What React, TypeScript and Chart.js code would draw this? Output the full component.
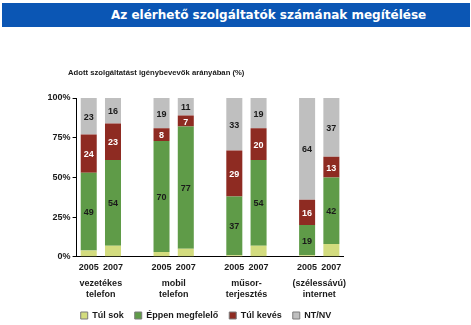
import React, { useEffect, useRef } from "react";
import { Chart, registerables } from "chart.js";

Chart.register(...registerables);

const titleText = "Az elérhető szolgáltatók számának megítélése";
const subtitleText = "Adott szolgáltatást igénybevevők arányában (%)";
const years = ["2005", "2007"];
const groupLabels = [
  ["vezetékes", "telefon"],
  ["mobil", "telefon"],
  ["műsor-", "terjesztés"],
  ["(szélessávú)", "internet"],
];
const seriesNames = ["Túl sok", "Éppen megfelelő", "Túl kevés", "NT/NV"];
const tulSok = [4, 7, 3, 5, 1, 7, 1, 8];
const eppenMegfelelo = [49, 54, 70, 77, 37, 54, 19, 42];
const tulKeves = [24, 23, 8, 7, 29, 20, 16, 13];
const ntnv = [23, 16, 19, 11, 33, 19, 64, 37];
const yTicks = [0, 25, 50, 75, 100];

const colors = ["#d3dc7e", "#5f9b48", "#8e2b22", "#bfbfbf"];
const labelColors = [null, "#1a1a1a", "#ffffff", "#1a1a1a"];

// build category labels with spacer categories between groups
const labels: string[] = [];
const slotIndex: number[] = [];
groupLabels.forEach((_, g) => {
  years.forEach((y) => {
    slotIndex.push(labels.length);
    labels.push(y);
  });
  if (g < groupLabels.length - 1) labels.push("");
});
const spread = (vals: number[]) => {
  const out: (number | null)[] = labels.map(() => null);
  vals.forEach((v, i) => (out[slotIndex[i]] = v));
  return out;
};

const FONT = "'Liberation Sans', Arial, sans-serif";

const barLabelPlugin = {
  id: "barLabels",
  afterDatasetsDraw(chart: any) {
    const ctx = chart.ctx;
    ctx.save();
    ctx.font = `bold 9px ${FONT}`;
    ctx.textAlign = "center";
    ctx.textBaseline = "middle";
    chart.data.datasets.forEach((ds: any, di: number) => {
      const col = labelColors[di];
      if (!col) return;
      const meta = chart.getDatasetMeta(di);
      meta.data.forEach((el: any, i: number) => {
        const v = ds.data[i];
        if (v == null) return;
        const p = el.getProps(["x", "y", "base"], true);
        ctx.fillStyle = col;
        ctx.fillText(String(v), p.x, (p.y + p.base) / 2 + 1);
      });
    });
    ctx.restore();
  },
};

const groupLabelPlugin = {
  id: "groupLabels",
  afterDraw(chart: any) {
    const ctx = chart.ctx;
    const xs = chart.scales.x;
    const bottom = chart.chartArea.bottom;
    ctx.save();
    ctx.font = `bold 9px ${FONT}`;
    ctx.fillStyle = "#1a1a1a";
    ctx.textAlign = "center";
    ctx.textBaseline = "middle";
    groupLabels.forEach((lines, g) => {
      const a = xs.getPixelForValue(slotIndex[g * 2]);
      const b = xs.getPixelForValue(slotIndex[g * 2 + 1]);
      const cx = (a + b) / 2;
      lines.forEach((ln, k) => {
        ctx.fillText(ln, cx, bottom + 27 + k * 11);
      });
    });
    ctx.restore();
  },
};

export default function App() {
  const ref = useRef<HTMLCanvasElement>(null);
  useEffect(() => {
    const data = [tulSok, eppenMegfelelo, tulKeves, ntnv];
    const chart = new Chart(ref.current as HTMLCanvasElement, {
      type: "bar",
      data: {
        labels,
        datasets: data.map((d, i) => ({
          label: seriesNames[i],
          data: spread(d),
          backgroundColor: colors[i],
          borderWidth: 0,
          barPercentage: 0.66,
          categoryPercentage: 1,
          yAxisID: "y",
        })),
      },
      options: {
        animation: false,
        responsive: false,
        layout: { padding: { top: 98, left: 0, right: 0, bottom: -5 } },
        plugins: {
          tooltip: { enabled: false },
          title: { display: false },
          legend: {
            position: "bottom",
            labels: {
              boxWidth: 7,
              boxHeight: 7,
              padding: 11,
              color: "#1a1a1a",
              font: { family: FONT, size: 9, weight: "bold" },
              generateLabels: (c: any) =>
                Chart.defaults.plugins.legend.labels
                  .generateLabels(c)
                  .map((l: any) => ({ ...l, strokeStyle: "#7a7a7a", lineWidth: 1 })),
            },
          },
        },
        scales: {
          x: {
            stacked: true,
            grid: { display: false, drawTicks: false },
            border: { display: true, color: "#000", width: 1 },
            ticks: {
              color: "#1a1a1a",
              font: { family: FONT, size: 9, weight: "bold" },
              padding: 5,
              autoSkip: false,
              maxRotation: 0,
            },
            afterFit: (s: any) => {
              s.height = 43.2;
            },
          },
          y: {
            stacked: true,
            min: 0,
            max: 100,
            afterBuildTicks: (s: any) => {
              s.ticks = yTicks.map((v) => ({ value: v }));
            },
            grid: {
              display: true,
              drawOnChartArea: false,
              drawTicks: true,
              tickLength: 4,
              color: "#000",
            },
            border: { display: true, color: "#000", width: 1 },
            ticks: {
              color: "#1a1a1a",
              font: { family: FONT, size: 9, weight: "bold" },
              padding: 2,
              callback: (v: any) => v + "%",
            },
            afterFit: (s: any) => {
              s.width = 76.6;
            },
          },
          y2: {
            position: "right",
            display: true,
            grid: { display: false },
            border: { display: false },
            ticks: { display: false },
            afterFit: (s: any) => {
              s.width = 68.5;
            },
          },
        },
      },
      plugins: [barLabelPlugin, groupLabelPlugin],
    } as any);
    return () => chart.destroy();
  }, []);

  return (
    <div style={{ position: "absolute", left: 0, top: 0, width: 471, height: 325, background: "#fff", overflow: "hidden" }}>
      <canvas ref={ref} width={412} height={325} style={{ position: "absolute", left: 0, top: 0, width: 412, height: 325 }} />
      <div
        style={{
          position: "absolute",
          left: 2,
          top: 3,
          width: 468,
          height: 24,
          background: "#0b56b4",
          color: "#fff",
          font: `bold 12px 'DejaVu Sans', Verdana, sans-serif`,
          lineHeight: "24px",
          paddingLeft: 109,
          boxSizing: "border-box",
          whiteSpace: "nowrap",
        }}
      >
        {titleText}
      </div>
      <div
        style={{
          position: "absolute",
          left: 68,
          top: 67,
          color: "#1a1a1a",
          font: `bold 7.7px ${FONT}`,
          lineHeight: "12px",
          whiteSpace: "nowrap",
        }}
      >
        {subtitleText}
      </div>
    </div>
  );
}
